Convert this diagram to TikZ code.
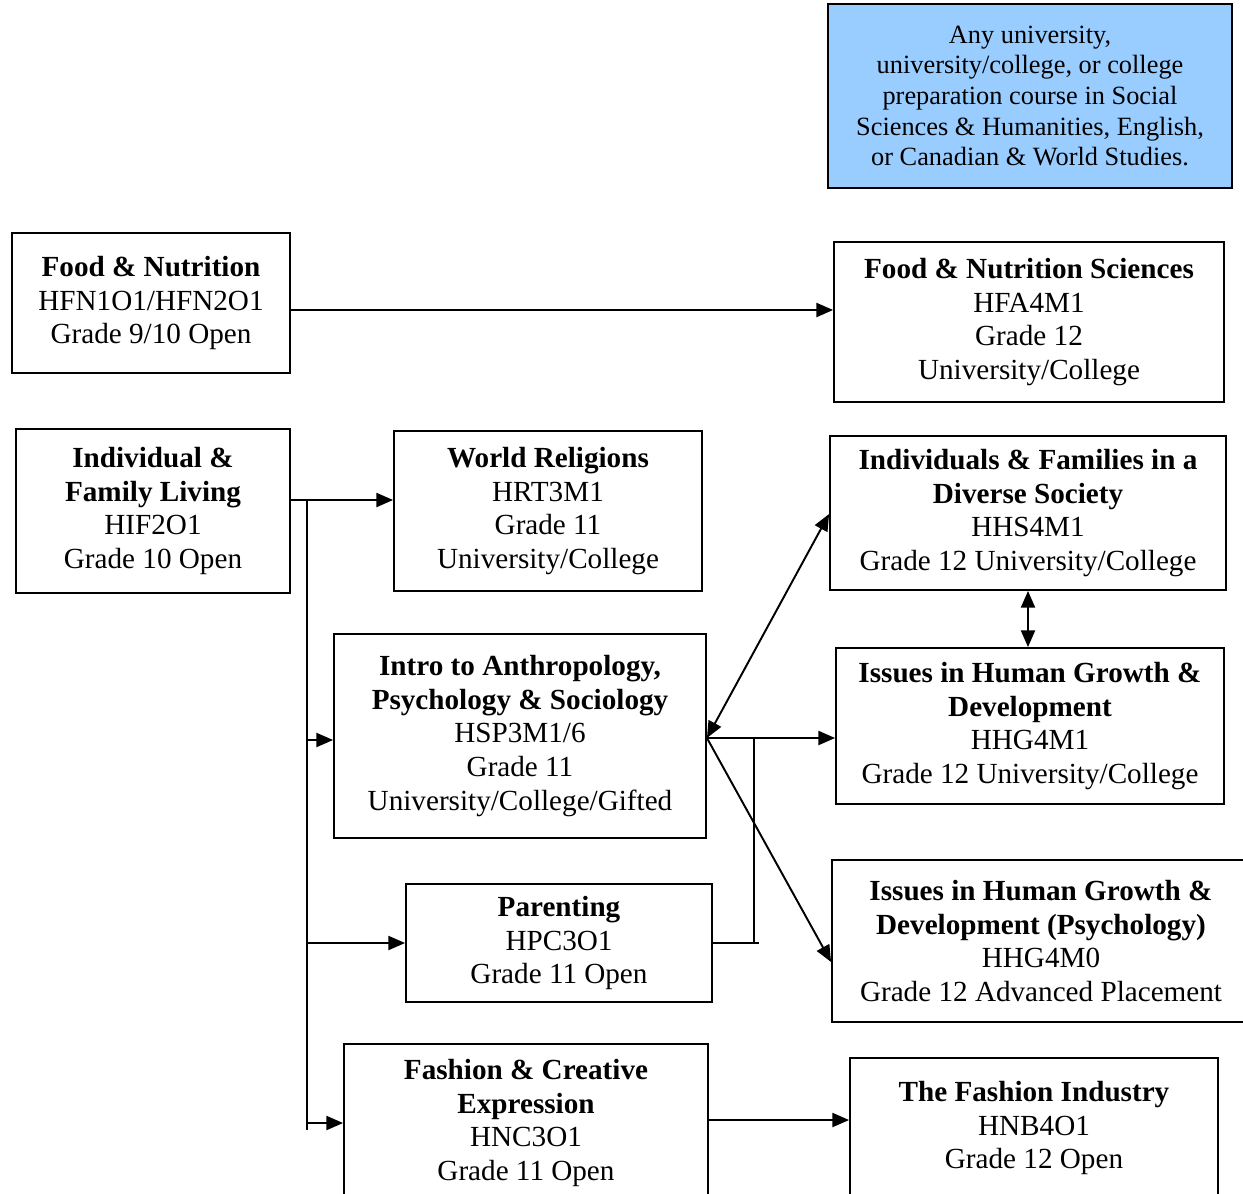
\documentclass[tikz,border=0pt]{standalone}
\usepackage{fontspec}
\setmainfont{Liberation Serif}
\usetikzlibrary{arrows.meta}
\definecolor{anyblue}{HTML}{99CCFF}

\begin{document}
\begin{tikzpicture}[x=0.02cm,y=-0.02cm,
  course/.style={draw,line width=1.1pt,align=center,inner sep=0pt,
    font=\fontsize{16.6}{19.3}\selectfont},
  arr/.style={line width=1.1pt,-{Triangle[length=9.5pt,width=8pt]}},
  dbl/.style={line width=1.1pt,{Triangle[length=9.5pt,width=8pt]}-{Triangle[length=9.5pt,width=8pt]}}]
  \useasboundingbox (0,0) rectangle (1243,1193);
  % courses
  \node[course,fill=anyblue,minimum width=8.08cm,minimum height=3.68cm,
    font=\fontsize{15}{17.4}\selectfont] (any) at (1030,96)
    {Any university,\\university/college, or college\\preparation course in Social\\Sciences \& Humanities, English,\\or Canadian \& World Studies.};
  \node[course,minimum width=5.56cm,minimum height=2.8cm] (fn) at (151,303)
    {\textbf{Food \& Nutrition}\\HFN1O1/HFN2O1\\Grade 9/10 Open};
  \node[course,minimum width=7.8cm,minimum height=3.2cm] (fns) at (1029,322)
    {\textbf{Food \& Nutrition Sciences}\\HFA4M1\\Grade 12\\University/College};
  \node[course,minimum width=5.48cm,minimum height=3.28cm] (ifl) at (153,511)
    {\textbf{Individual \&}\\\textbf{Family Living}\\HIF2O1\\Grade 10 Open};
  \node[course,minimum width=6.16cm,minimum height=3.2cm] (wr) at (548,511)
    {\textbf{World Religions}\\HRT3M1\\Grade 11\\University/College};
  \node[course,minimum width=7.92cm,minimum height=3.08cm] (ifds) at (1028,513)
    {\textbf{Individuals \& Families in a}\\\textbf{Diverse Society}\\HHS4M1\\Grade 12 University/College};
  \node[course,minimum width=7.44cm,minimum height=4.08cm] (intro) at (520,736)
    {\textbf{Intro to Anthropology,}\\\textbf{Psychology \& Sociology}\\HSP3M1/6\\Grade 11\\University/College/Gifted};
  \node[course,minimum width=7.76cm,minimum height=3.12cm] (ihg) at (1030,726)
    {\textbf{Issues in Human Growth \&}\\\textbf{Development}\\HHG4M1\\Grade 12 University/College};
  \node[course,minimum width=6.12cm,minimum height=2.36cm] (par) at (559,943)
    {\textbf{Parenting}\\HPC3O1\\Grade 11 Open};
  \node[course,minimum width=8.36cm,minimum height=3.24cm] (ihgp) at (1041,941)
    {\textbf{Issues in Human Growth \&}\\\textbf{Development (Psychology)}\\HHG4M0\\Grade 12 Advanced Placement};
  \node[course,minimum width=7.28cm,minimum height=3.16cm] (fash) at (526,1123)
    {\textbf{Fashion \& Creative}\\\textbf{Expression}\\HNC3O1\\Grade 11 Open};
  \node[course,minimum width=7.36cm,minimum height=2.8cm] (tfi) at (1034,1128)
    {\textbf{The Fashion Industry}\\HNB4O1\\Grade 12 Open};
  % links
  \coordinate (t0) at (307,499);
  \coordinate (t1) at (307,1130);
  \coordinate (j1) at (754,738);
  \draw[arr] ([yshift=-0.14cm]fn.east) -- ([yshift=-0.14cm]fn.east -| fns.west);
  \draw[arr] ([yshift=0.22cm]ifl.east) -- ([yshift=0.22cm]ifl.east -| wr.west);
  \draw[line width=1.1pt] (t0) -- (t1);
  \draw[arr] ([yshift=-0.08cm]t0 |- intro.west) -- ([yshift=-0.08cm]intro.west);
  \draw[arr] (t0 |- par.west) -- (par.west);
  \draw[arr] (t0 |- fash.west) -- (fash.west);
  \draw[dbl] (j1 -| intro.east) -- ([yshift=-0.02cm]ifds.west);
  \draw[arr] (j1 -| intro.east) -- (j1 -| ihg.west);
  \draw[arr] (j1 -| intro.east) -- ([yshift=-0.42cm]ihgp.west);
  \draw[line width=1.1pt] (par.east) -- ++(46,0);
  \draw[line width=1.1pt] (j1) -- (j1 |- par.east);
  \draw[dbl] (ifds.south) -- (ifds.south |- ihg.north);
  \draw[arr] ([yshift=0.06cm]fash.east) -- ([yshift=0.06cm]fash.east -| tfi.west);
\end{tikzpicture}
\end{document}
